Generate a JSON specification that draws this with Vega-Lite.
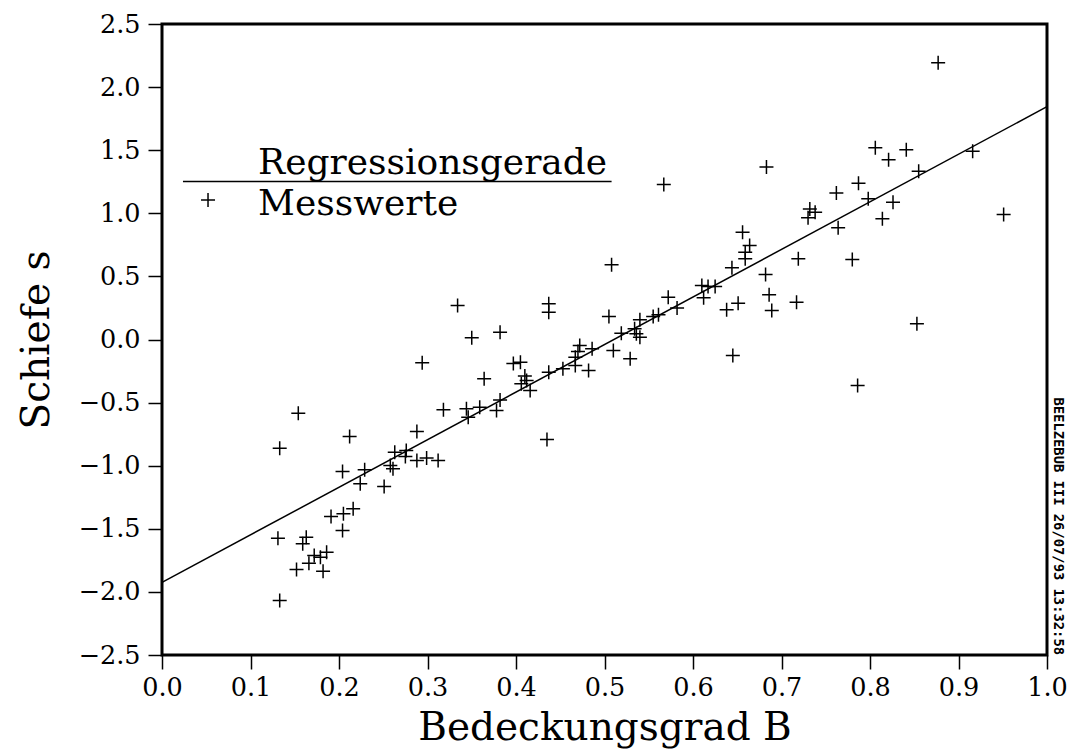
{
  "$schema": "https://vega.github.io/schema/vega-lite/v6.json",
  "width": 885,
  "height": 631,
  "autosize": {"type": "none"},
  "padding": {"left": 162, "top": 24, "right": 33, "bottom": 100},
  "background": "white",
  "config": {
    "view": {"stroke": "black", "strokeWidth": 3},
    "axis": {
      "domain": false,
      "grid": false,
      "ticks": true,
      "tickColor": "black",
      "tickWidth": 1.5,
      "tickSize": 14,
      "labelColor": "black",
      "labelFont": "DejaVu Serif",
      "labelFontSize": 25.5,
      "labelOverlap": false,
      "labelFlush": false,
      "labelBound": false,
      "titleColor": "black",
      "titleFont": "DejaVu Serif",
      "titleFontSize": 39,
      "titleFontWeight": "normal"
    }
  },
  "datasets": {
    "pts": [
      {"B": 0.133, "s": -0.861}, {"B": 0.154, "s": -0.584}, {"B": 0.212, "s": -0.769}, {"B": 0.288, "s": -0.729},
      {"B": 0.263, "s": -0.893}, {"B": 0.276, "s": -0.880}, {"B": 0.275, "s": -0.927}, {"B": 0.288, "s": -0.959},
      {"B": 0.299, "s": -0.938}, {"B": 0.312, "s": -0.959}, {"B": 0.258, "s": -0.998}, {"B": 0.261, "s": -1.025},
      {"B": 0.229, "s": -1.033}, {"B": 0.204, "s": -1.046}, {"B": 0.224, "s": -1.144}, {"B": 0.251, "s": -1.165},
      {"B": 0.216, "s": -1.342}, {"B": 0.205, "s": -1.381}, {"B": 0.191, "s": -1.403}, {"B": 0.204, "s": -1.513},
      {"B": 0.131, "s": -1.574}, {"B": 0.163, "s": -1.566}, {"B": 0.159, "s": -1.619}, {"B": 0.186, "s": -1.685},
      {"B": 0.179, "s": -1.725}, {"B": 0.172, "s": -1.712}, {"B": 0.166, "s": -1.773}, {"B": 0.152, "s": -1.823},
      {"B": 0.182, "s": -1.836}, {"B": 0.133, "s": -2.068},
      {"B": 0.318, "s": -0.557}, {"B": 0.344, "s": -0.549}, {"B": 0.346, "s": -0.616}, {"B": 0.359, "s": -0.536},
      {"B": 0.378, "s": -0.563}, {"B": 0.382, "s": -0.480}, {"B": 0.334, "s": 0.269}, {"B": 0.350, "s": 0.013},
      {"B": 0.382, "s": 0.058}, {"B": 0.294, "s": -0.185}, {"B": 0.364, "s": -0.312}, {"B": 0.397, "s": -0.190},
      {"B": 0.405, "s": -0.180}, {"B": 0.410, "s": -0.290}, {"B": 0.412, "s": -0.325}, {"B": 0.406, "s": -0.350},
      {"B": 0.416, "s": -0.404}, {"B": 0.437, "s": 0.283}, {"B": 0.437, "s": 0.216}, {"B": 0.435, "s": -0.792},
      {"B": 0.437, "s": -0.259}, {"B": 0.453, "s": -0.232}, {"B": 0.467, "s": -0.206}, {"B": 0.482, "s": -0.246},
      {"B": 0.472, "s": -0.048}, {"B": 0.470, "s": -0.095}, {"B": 0.467, "s": -0.140}, {"B": 0.486, "s": -0.074},
      {"B": 0.505, "s": 0.182}, {"B": 0.508, "s": 0.592}, {"B": 0.510, "s": -0.087}, {"B": 0.529, "s": -0.153},
      {"B": 0.519, "s": 0.050}, {"B": 0.534, "s": 0.085}, {"B": 0.536, "s": 0.045}, {"B": 0.540, "s": 0.018},
      {"B": 0.540, "s": 0.156}, {"B": 0.555, "s": 0.182}, {"B": 0.561, "s": 0.196}, {"B": 0.567, "s": 1.228},
      {"B": 0.572, "s": 0.335}, {"B": 0.582, "s": 0.250},
      {"B": 0.610, "s": 0.428}, {"B": 0.617, "s": 0.420}, {"B": 0.625, "s": 0.420}, {"B": 0.612, "s": 0.330},
      {"B": 0.638, "s": 0.235}, {"B": 0.645, "s": -0.127}, {"B": 0.644, "s": 0.568}, {"B": 0.651, "s": 0.288},
      {"B": 0.656, "s": 0.850}, {"B": 0.659, "s": 0.692}, {"B": 0.659, "s": 0.639}, {"B": 0.664, "s": 0.745},
      {"B": 0.682, "s": 0.515}, {"B": 0.683, "s": 1.366}, {"B": 0.686, "s": 0.354}, {"B": 0.689, "s": 0.230},
      {"B": 0.717, "s": 0.296}, {"B": 0.719, "s": 0.639}, {"B": 0.730, "s": 0.964}, {"B": 0.732, "s": 1.035},
      {"B": 0.738, "s": 1.009}, {"B": 0.762, "s": 1.160}, {"B": 0.764, "s": 0.885}, {"B": 0.780, "s": 0.634},
      {"B": 0.786, "s": -0.365}, {"B": 0.787, "s": 1.239}, {"B": 0.798, "s": 1.115}, {"B": 0.806, "s": 1.519},
      {"B": 0.814, "s": 0.956}, {"B": 0.821, "s": 1.424}, {"B": 0.826, "s": 1.088}, {"B": 0.841, "s": 1.503},
      {"B": 0.853, "s": 0.124}, {"B": 0.855, "s": 1.334}, {"B": 0.877, "s": 2.193}, {"B": 0.916, "s": 1.492},
      {"B": 0.951, "s": 0.990}
    ],
    "reg": [{"B": 0.0, "s": -1.925}, {"B": 1.0, "s": 1.845}],
    "legline": [{"B": 0.0237, "B2": 0.508, "s": 1.252}],
    "legpt": [{"B": 0.052, "s": 1.105}],
    "legtext": [
      {"B": 0.1085, "s": 1.315, "label": "Regressionsgerade"},
      {"B": 0.1085, "s": 0.983, "label": "Messwerte"}
    ],
    "stamp": [{"B": 1.0, "s": -2.5, "label": "BEELZEBUB III 26/07/93 13:32:58"}]
  },
  "layer": [
    {
      "data": {"name": "pts"},
      "mark": {"type": "point", "shape": "M-1,0H1M0,-1V1", "size": 196, "filled": false, "stroke": "black", "strokeWidth": 1.5, "opacity": 1},
      "encoding": {
        "x": {
          "field": "B", "type": "quantitative",
          "scale": {"domain": [0, 1], "nice": false, "zero": false},
          "axis": {"values": [0, 0.1, 0.2, 0.3, 0.4, 0.5, 0.6, 0.7, 0.8, 0.9, 1.0], "format": ".1f", "labelPadding": 6, "titlePadding": 8},
          "title": "Bedeckungsgrad B"
        },
        "y": {
          "field": "s", "type": "quantitative",
          "scale": {"domain": [-2.5, 2.5], "nice": false, "zero": false},
          "axis": {"values": [-2.5, -2.0, -1.5, -1.0, -0.5, 0, 0.5, 1.0, 1.5, 2.0, 2.5], "format": ".1f", "labelPadding": 8, "titlePadding": 22},
          "title": "Schiefe s"
        }
      }
    },
    {
      "data": {"name": "reg"},
      "mark": {"type": "line", "color": "black", "strokeWidth": 1.5},
      "encoding": {
        "x": {"field": "B", "type": "quantitative", "title": "Bedeckungsgrad B"},
        "y": {"field": "s", "type": "quantitative", "title": "Schiefe s"}
      }
    },
    {
      "data": {"name": "legline"},
      "mark": {"type": "rule", "color": "black", "strokeWidth": 1.5},
      "encoding": {
        "x": {"field": "B", "type": "quantitative", "title": "Bedeckungsgrad B"},
        "x2": {"field": "B2", "title": "Bedeckungsgrad B"},
        "y": {"field": "s", "type": "quantitative", "title": "Schiefe s"}
      }
    },
    {
      "data": {"name": "legpt"},
      "mark": {"type": "point", "shape": "M-1,0H1M0,-1V1", "size": 196, "filled": false, "stroke": "black", "strokeWidth": 1.5, "opacity": 1},
      "encoding": {
        "x": {"field": "B", "type": "quantitative", "title": "Bedeckungsgrad B"},
        "y": {"field": "s", "type": "quantitative", "title": "Schiefe s"}
      }
    },
    {
      "data": {"name": "legtext"},
      "mark": {"type": "text", "align": "left", "baseline": "alphabetic", "font": "DejaVu Serif", "fontSize": 36, "color": "black"},
      "encoding": {
        "x": {"field": "B", "type": "quantitative", "title": "Bedeckungsgrad B"},
        "y": {"field": "s", "type": "quantitative", "title": "Schiefe s"},
        "text": {"field": "label"}
      }
    },
    {
      "data": {"name": "stamp"},
      "mark": {"type": "text", "angle": 90, "align": "right", "baseline": "bottom", "dy": -4, "font": "DejaVu Sans Mono", "fontWeight": "bold", "fontSize": 13.8, "color": "black"},
      "encoding": {
        "x": {"field": "B", "type": "quantitative", "title": "Bedeckungsgrad B"},
        "y": {"field": "s", "type": "quantitative", "title": "Schiefe s"},
        "text": {"field": "label"}
      }
    }
  ]
}
